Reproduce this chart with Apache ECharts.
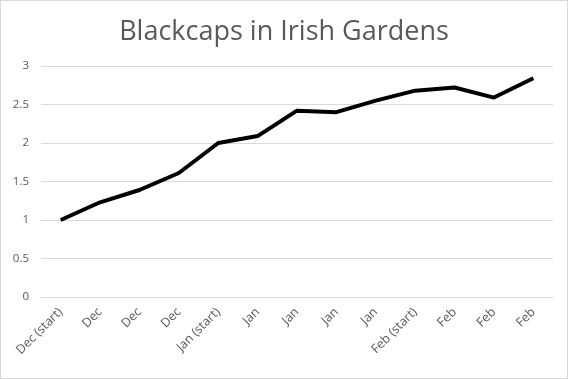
<!DOCTYPE html>
<html><head><meta charset="utf-8">
<script src="https://cdn.jsdelivr.net/npm/echarts@6/dist/echarts.min.js"></script>
<style>html,body{margin:0;padding:0;background:#fff}#c{width:566px;height:377px;border:1px solid #d9d9d9}</style>
</head><body><div id="c"></div>
<script>
const title = 'Blackcaps in Irish Gardens';
const categories = ['Dec (start)','Dec','Dec','Dec','Jan (start)','Jan','Jan','Jan','Jan','Feb (start)','Feb','Feb','Feb'];
const values = [1.0,1.23,1.39,1.61,2.0,2.09,2.42,2.40,2.55,2.68,2.72,2.59,2.84];
const yTicks = {min:0,max:3,interval:0.5};
const chart = echarts.init(document.getElementById('c'));
chart.setOption({
  animation:false,
  title:{text:title,left:'center',top:13,textStyle:{fontFamily:'Open Sans',fontWeight:'normal',fontSize:27,color:'#595959'}},
  grid:{left:40,right:14,top:65,bottom:81},
  xAxis:{type:'category',data:categories,boundaryGap:true,
    axisLine:{lineStyle:{color:'#d9d9d9'}},axisTick:{show:false},
    axisLabel:{rotate:45,interval:0,color:'#595959',fontFamily:'Open Sans',fontSize:12.5,margin:13}},
  yAxis:{type:'value',min:yTicks.min,max:yTicks.max,interval:yTicks.interval,
    axisLine:{show:false},axisTick:{show:false},
    splitLine:{lineStyle:{color:'#d9d9d9'}},
    axisLabel:{color:'#595959',fontFamily:'Open Sans',fontSize:11.5,margin:12}},
  series:[{type:'line',data:values,showSymbol:false,lineStyle:{color:'#000',width:4},itemStyle:{color:'#000'}}]
});
</script></body></html>
